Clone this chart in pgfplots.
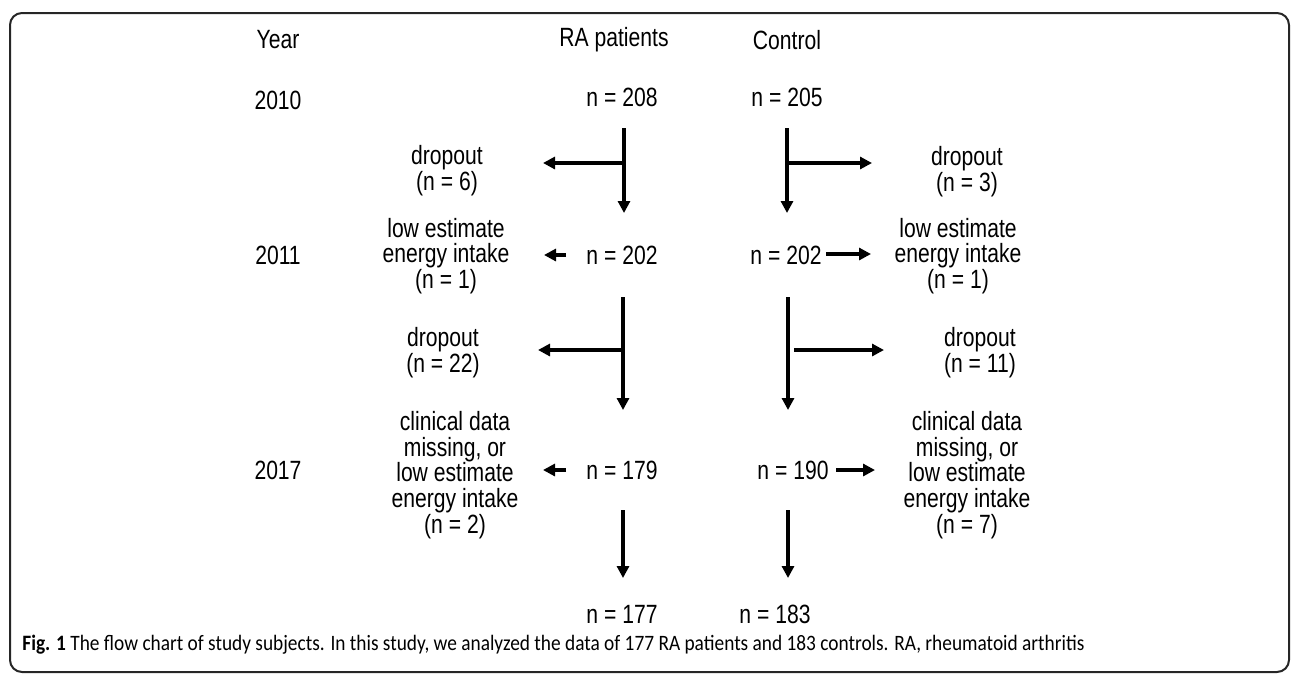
\documentclass[border=0pt]{standalone}
\usepackage{pgfplots}
\pgfplotsset{compat=1.18}
\usetikzlibrary{arrows.meta}
\usepackage{fontspec}
\setmainfont{Liberation Sans}
\newfontfamily\fc[FakeStretch=0.8]{Liberation Sans}
\newfontfamily\capfont[FakeStretch=0.88]{Carlito}
\tikzset{tx/.style={font=\fc\fontsize{13.2}{12.9}\selectfont, align=center, inner sep=0pt}}
\begin{document}
\begin{tikzpicture}
\begin{axis}[
  scale only axis, width=647.5pt, height=338pt,
  xmin=0, xmax=1295, ymin=0, ymax=676, y dir=reverse,
  hide axis, clip=false,
]
% invisible corners to fix the picture size
\addplot[draw=none, forget plot] coordinates {(0,0) (1295,676)};
% frame
\draw[line width=1pt, color=black!85, rounded corners=6pt] (axis cs:10,13) rectangle (axis cs:1289,672);
% headers
\node[tx] at (axis cs:278,40) {Year};
\node[tx] at (axis cs:614,40) {RA patients};
\node[tx] at (axis cs:787,40) {Control};
\node[tx] at (axis cs:278,100) {2010};
\node[tx] at (axis cs:278,255) {2011};
\node[tx] at (axis cs:278,470) {2017};
% counts
\node[tx] at (axis cs:622,97) {n = 208};
\node[tx] at (axis cs:787,97) {n = 205};
\node[tx] at (axis cs:622,255) {n = 202};
\node[tx] at (axis cs:786,255) {n = 202};
\node[tx] at (axis cs:622,470) {n = 179};
\node[tx] at (axis cs:793,470) {n = 190};
\node[tx] at (axis cs:622,614) {n = 177};
\node[tx] at (axis cs:775,614) {n = 183};
% exclusion texts
\node[tx] at (axis cs:447,171) {dropout\\ (n = 6)};
\node[tx] at (axis cs:967,172) {dropout\\ (n = 3)};
\node[tx] at (axis cs:446,256) {low estimate\\energy intake\\(n = 1)};
\node[tx] at (axis cs:958,256) {low estimate\\energy intake\\(n = 1)};
\node[tx] at (axis cs:443,353) {dropout\\(n = 22)};
\node[tx] at (axis cs:980,353) {dropout\\ (n = 11)};
\node[tx] at (axis cs:455,475) {clinical data\\missing, or\\low estimate\\energy intake\\(n = 2)};
\node[tx] at (axis cs:967,475) {clinical data\\missing, or\\low estimate\\energy intake\\(n = 7)};
% arrows
\pgfplotsset{arr/.style={line width=1.6pt, black, -{Triangle[length=6pt,width=6pt]}}}
\addplot[arr] coordinates {(624,128) (624,213)};
\addplot[arr] coordinates {(624,163) (543,163)};
\addplot[arr] coordinates {(787,128) (787,213)};
\addplot[arr] coordinates {(787,163) (872,163)};
\addplot[arr] coordinates {(566,255) (544,255)};
\addplot[arr] coordinates {(826,254) (871,254)};
\addplot[arr] coordinates {(623,297) (623,410)};
\addplot[arr] coordinates {(622,350) (538,350)};
\addplot[arr] coordinates {(788,297) (788,410)};
\addplot[arr] coordinates {(794,350) (884,350)};
\addplot[arr] coordinates {(566,470) (543,470)};
\addplot[arr] coordinates {(836,470) (875,470)};
\addplot[arr] coordinates {(623,510) (623,578)};
\addplot[arr] coordinates {(788,510) (788,578)};
% caption
\node[anchor=west, inner sep=0pt, font=\capfont] at (axis cs:22,645) {\resizebox{531pt}{!}{\textbf{Fig. 1} The flow chart of study subjects. In this study, we analyzed the data of 177 RA patients and 183 controls. RA, rheumatoid arthritis}};
\end{axis}
\end{tikzpicture}
\end{document}
